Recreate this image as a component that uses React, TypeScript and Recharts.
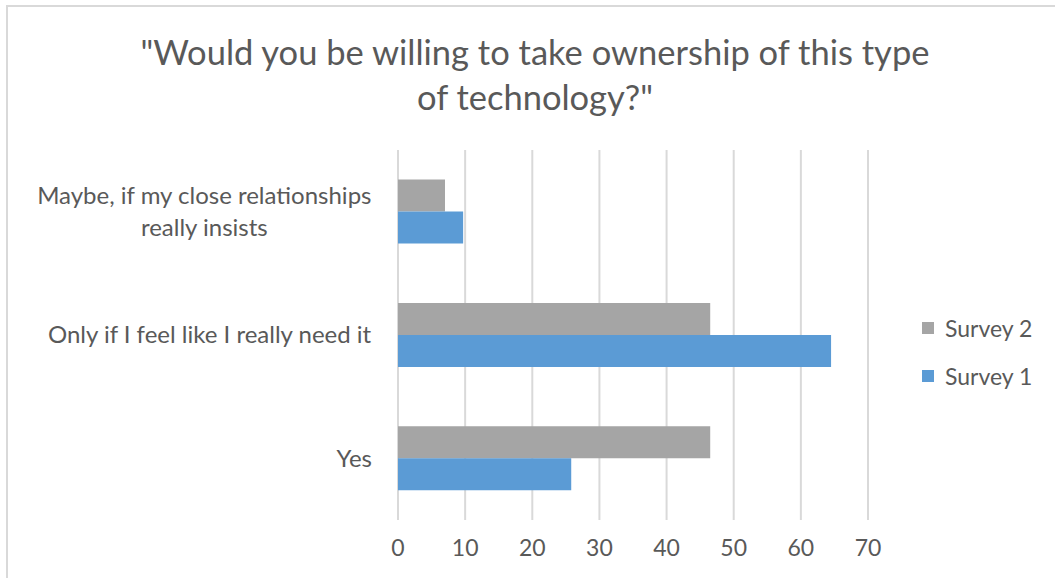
import { BarChart, Bar, XAxis, YAxis, CartesianGrid } from "recharts";

const categories = [
  "Maybe, if my close relationships really insists",
  "Only if I feel like I really need it",
  "Yes",
];
const survey1 = [9.7, 64.5, 25.8];
const survey2 = [7, 46.5, 46.5];
const xTicks = [0, 10, 20, 30, 40, 50, 60, 70];
const titleLines = ['"Would you be willing to take ownership of this type', 'of technology?"'];

const FONT = "Lato, 'Liberation Sans', sans-serif";
const TEXT = "#595959";
const GRAY = "#a5a5a5";
const BLUE = "#5b9bd5";

const series = [
  { key: "s2", name: "Survey 2", color: GRAY },
  { key: "s1", name: "Survey 1", color: BLUE },
];

const data = categories.map((name, i) => ({
  name,
  s1: survey1[i],
  s2: survey2[i],
}));

let ctx: CanvasRenderingContext2D | null = null;
function measure(text: string, size: number) {
  if (!ctx) ctx = document.createElement("canvas").getContext("2d");
  if (!ctx) return text.length * size * 0.5;
  ctx.font = `${size}px ${FONT}`;
  return ctx.measureText(text).width;
}

function wrap(text: string, size: number, maxW: number) {
  const words = text.split(" ");
  const lines: string[] = [];
  let cur = "";
  for (const w of words) {
    const next = cur ? cur + " " + w : w;
    if (cur && measure(next, size) > maxW) {
      lines.push(cur);
      cur = w;
    } else cur = next;
  }
  if (cur) lines.push(cur);
  return lines;
}

const LABEL_SIZE = 24;
const LABEL_RIGHT = 372;

function CategoryTick(props: any) {
  const { y, payload } = props;
  const lines = wrap(payload.value, LABEL_SIZE, 360);
  const blockW = Math.max(...lines.map((l) => measure(l, LABEL_SIZE)));
  const cx = LABEL_RIGHT - blockW / 2;
  const lh = 32;
  const top = y - ((lines.length - 1) * lh) / 2;
  return (
    <g>
      {lines.map((l, i) => (
        <text
          key={i}
          x={cx}
          y={top + i * lh}
          dy="0.35em"
          textAnchor="middle"
          fill={TEXT}
          fontSize={LABEL_SIZE}
          fontFamily={FONT}
        >
          {l}
        </text>
      ))}
    </g>
  );
}

function LegendBox() {
  return (
    <div style={{ fontFamily: FONT, fontSize: 23, color: TEXT }}>
      {series.map((s) => (
        <div key={s.key} style={{ display: "flex", alignItems: "center", height: 48 }}>
          <span style={{ width: 12, height: 12, background: s.color, marginRight: 11 }} />
          <span>{s.name}</span>
        </div>
      ))}
    </div>
  );
}

export default function App() {
  return (
    <div
      style={{
        position: "absolute",
        left: 0,
        top: 0,
        width: 1055,
        height: 578,
        overflow: "hidden",
        background: "#fff",
      }}
    >
      <div
        style={{
          position: "absolute",
          left: 6,
          top: 5,
          width: 1100,
          height: 620,
          border: "2px solid #d9d9d9",
        }}
      />
      <div
        style={{
          position: "absolute",
          left: 0,
          top: 29,
          width: 1070,
          textAlign: "center",
          fontFamily: FONT,
          fontSize: 34.5,
          color: TEXT,
          lineHeight: "45px",
        }}
      >
        {titleLines.map((t) => (
          <div key={t}>{t}</div>
        ))}
      </div>
      <div style={{ position: "absolute", left: 922, top: 304 }}>
        <LegendBox />
      </div>
      <div style={{ position: "absolute", left: 0, top: 0 }}>
        <BarChart
          width={1055}
          height={578}
          data={data}
          layout="vertical"
          margin={{ top: 150, right: 187, bottom: 28, left: 0 }}
          barCategoryGap="24%"
          barGap={0}
        >
          <CartesianGrid horizontal={false} stroke="#d9d9d9" strokeWidth={2} />
          <XAxis
            type="number"
            domain={[0, 70]}
            ticks={xTicks}
            axisLine={false}
            tickLine={false}
            tickMargin={14}
            height={30}
            tick={{ fill: TEXT, fontSize: 23, fontFamily: FONT }}
          />
          <YAxis
            type="category"
            dataKey="name"
            width={398}
            axisLine={false}
            tickLine={false}
            tick={<CategoryTick />}
          />
          {series.map((s) => (
            <Bar key={s.key} dataKey={s.key} name={s.name} fill={s.color} isAnimationActive={false} />
          ))}
        </BarChart>
      </div>
    </div>
  );
}
